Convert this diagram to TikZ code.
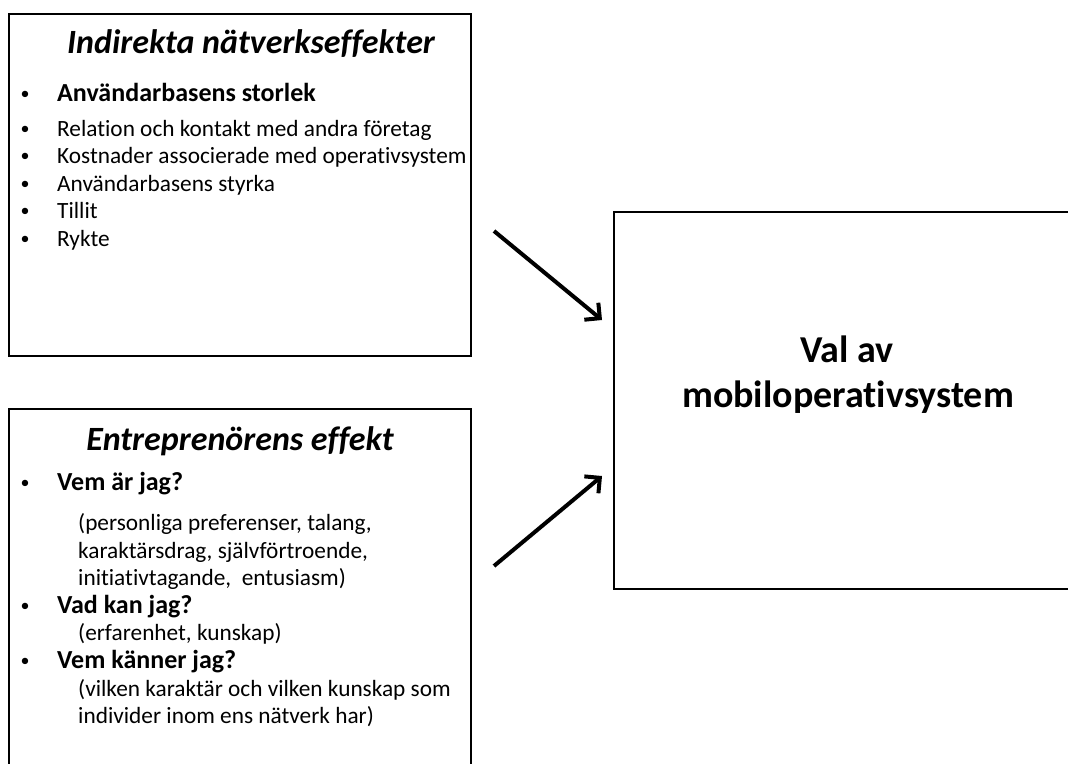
\documentclass[tikz,border=0pt]{standalone}
\usepackage{fontspec}
\setmainfont{Carlito}[Ligatures=NoCommon]
\usepackage{tikz}
\usetikzlibrary{positioning,calc,arrows.meta}

\tikzset{
  frame/.style={draw=black, line width=2.4pt, inner sep=0pt},
  boxtitle/.style={font=\fontsize{34}{40}\selectfont\itshape\bfseries, anchor=base, inner sep=0pt},
  itemtxt/.style={font=\fontsize{23.3}{28}\selectfont, anchor=base west, inner sep=0pt},
  itemhead/.style={font=\fontsize{26}{31}\selectfont\bfseries, anchor=base west, inner sep=0pt},
  dot/.style={font=\fontsize{18}{22}\selectfont, anchor=base, inner sep=0pt},
  maintxt/.style={font=\fontsize{38}{44}\selectfont\bfseries, anchor=base, inner sep=0pt},
  influence/.style={line width=4pt, -{Straight Barb[length=11pt, width=22pt, line width=4pt]}}
}

\begin{document}
\begin{tikzpicture}[x=1pt, y=-1pt]
    \useasboundingbox[fill=white] (0,0) rectangle (1068,763);

    % boxes
    \node[frame, minimum width=462pt, minimum height=342pt] (indirect) at (240,185) {};
    \node[frame, minimum width=462pt, minimum height=400pt] (entre) at (240,609) {};
    \node[frame, minimum width=480pt, minimum height=377pt] (valbox) at (854,400.5) {};

    % upper box
    \node[boxtitle] (indtitle) at (251,53) {Indirekta nätverkseffekter};
    \node[dot] (d1) at (25,99) {•};
    \node[itemhead] (i1) at (57,101) {Användarbasens storlek};
    \node[dot] (d2) at (25,134) {•};
    \node[itemtxt] (i2) at (57,136) {Relation och kontakt med andra företag};
    \node[dot] (d3) at (25,161) {•};
    \node[itemtxt] (i3) at (57,163) {Kostnader associerade med operativsystem};
    \node[dot] (d4) at (25,189) {•};
    \node[itemtxt] (i4) at (57,191) {Användarbasens styrka};
    \node[dot] (d5) at (25,216) {•};
    \node[itemtxt] (i5) at (57,218) {Tillit};
    \node[dot] (d6) at (25,244) {•};
    \node[itemtxt] (i6) at (57,246) {Rykte};

    % lower box
    \node[boxtitle] (entitle) at (240,450) {Entreprenörens effekt};
    \node[dot] (e1) at (25,488) {•};
    \node[itemhead] (q1) at (57,490) {Vem är jag?};
    \node[itemtxt] (a1) at (78,530) {(personliga preferenser, talang,};
    \node[itemtxt] (a2) at (78,558) {karaktärsdrag, självförtroende,};
    \node[itemtxt] (a3) at (78,585) {initiativtagande,\ \ entusiasm)};
    \node[dot] (e2) at (25,611) {•};
    \node[itemhead] (q2) at (57,613) {Vad kan jag?};
    \node[itemtxt] (b1) at (78,640) {(erfarenhet, kunskap)};
    \node[dot] (e3) at (25,666) {•};
    \node[itemhead] (q3) at (57,668) {Vem känner jag?};
    \node[itemtxt] (c1) at (78,696) {(vilken karaktär och vilken kunskap som};
    \node[itemtxt] (c2) at (78,723) {individer inom ens nätverk har)};

    % right box
    \node[maintxt] (val1) at (847,362) {Val av};
    \node[maintxt] (val2) at (848,407) {mobiloperativsystem};

    % arrows
    \coordinate (from1) at (494,231);
    \coordinate (to1) at (602,320);
    \coordinate (from2) at (494,566);
    \coordinate (to2) at (602,476);
    \draw[influence] (from1) -- (to1);
    \draw[influence] (from2) -- (to2);
\end{tikzpicture}
\end{document}
